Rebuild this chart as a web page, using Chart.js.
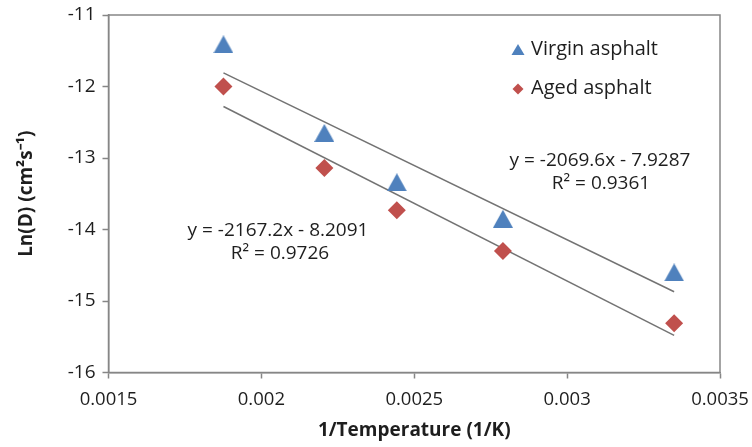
<!DOCTYPE html>
<html><head><meta charset="utf-8">
<script src="https://cdn.jsdelivr.net/npm/chart.js@4/dist/chart.umd.min.js"></script>
<style>html,body{margin:0;padding:0;background:#fff}#wrap{width:752px;height:447px}</style>
</head><body><div id="wrap"><canvas id="c" width="752" height="447"></canvas></div>
<script>
// ---- data ----
const invTemp = [0.001876, 0.002206, 0.002443, 0.00279, 0.00335];
const virginLnD = [-11.41, -12.65, -13.34, -13.85, -14.60];
const agedLnD = [-12.00, -13.14, -13.73, -14.30, -15.31];
const trendX = [0.001876, 0.00335];
const virginTrend = [-11.81, -14.87];
const agedTrend = [-12.28, -15.48];
const xTicks = [0.0015, 0.002, 0.0025, 0.003, 0.0035];
const yTicks = [-16, -15, -14, -13, -12, -11];
const seriesNames = ['Virgin asphalt', 'Aged asphalt'];
const virginEq = ['y = -2069.6x - 7.9287', 'R² = 0.9361'];
const agedEq = ['y = -2167.2x - 8.2091', 'R² = 0.9726'];
const xTitle = '1/Temperature (1/K)';
const yTitle = 'Ln(D) (cm²s⁻¹)';

const FONT = '"Open Sans", "Liberation Sans", sans-serif';
const BLUE = '#4F81BD', RED = '#C0504D', AXIS = '#868686', TXT = '#1e1e1e';

function triCanvas(w, h, color) {
  const c = document.createElement('canvas');
  c.width = w; c.height = h;
  const g = c.getContext('2d');
  g.fillStyle = color;
  g.beginPath(); g.moveTo(w / 2, 0); g.lineTo(w, h); g.lineTo(0, h); g.closePath(); g.fill();
  return c;
}
const triBig = triCanvas(20, 18, BLUE);

const overlay = {
  id: 'overlay',
  afterDraw(chart) {
    const ctx = chart.ctx, a = chart.chartArea;
    ctx.save();
    // plot frame
    ctx.strokeStyle = AXIS; ctx.lineWidth = 1.5;
    ctx.strokeRect(a.left, a.top, a.right - a.left, a.bottom - a.top);
    // legend
    const lx = 518, ty = 50, dy = 89;
    ctx.fillStyle = BLUE;
    ctx.beginPath(); ctx.moveTo(lx, ty - 6); ctx.lineTo(lx + 6.5, ty + 5); ctx.lineTo(lx - 6.5, ty + 5); ctx.closePath(); ctx.fill();
    ctx.fillStyle = RED;
    ctx.beginPath(); ctx.moveTo(lx, dy - 5.5); ctx.lineTo(lx + 5.5, dy); ctx.lineTo(lx, dy + 5.5); ctx.lineTo(lx - 5.5, dy); ctx.closePath(); ctx.fill();
    ctx.fillStyle = TXT;
    ctx.font = '500 20px ' + FONT;
    ctx.textBaseline = 'middle'; ctx.textAlign = 'left';
    ctx.fillText(seriesNames[0], 531, ty - 1);
    ctx.fillText(seriesNames[1], 531, dy - 1);
    // equations
    ctx.font = '500 19px ' + FONT;
    ctx.textAlign = 'center';
    ctx.fillText(virginEq[0], 600, 161);
    ctx.fillText(virginEq[1], 601, 184);
    ctx.fillText(agedEq[0], 278, 231);
    ctx.fillText(agedEq[1], 280, 254);
    ctx.restore();
  }
};

function build() {
  new Chart(document.getElementById('c'), {
    type: 'scatter',
    data: {
      datasets: [
        { label: seriesNames[0], data: invTemp.map((x, i) => ({ x, y: virginLnD[i] })),
          pointStyle: triBig, pointRadius: 10, backgroundColor: BLUE, borderWidth: 0, order: 0 },
        { label: seriesNames[1], data: invTemp.map((x, i) => ({ x, y: agedLnD[i] })),
          pointStyle: 'rectRot', pointRadius: 9, backgroundColor: RED, borderColor: RED, borderWidth: 0, order: 0 },
        { label: 'Virgin trend', data: trendX.map((x, i) => ({ x, y: virginTrend[i] })),
          showLine: true, pointRadius: 0, borderColor: '#737373', borderWidth: 1.5, order: 1 },
        { label: 'Aged trend', data: trendX.map((x, i) => ({ x, y: agedTrend[i] })),
          showLine: true, pointRadius: 0, borderColor: '#737373', borderWidth: 1.5, order: 1 }
      ]
    },
    options: {
      responsive: false, animation: false,
      layout: { padding: { top: 15, right: 32, left: 0, bottom: 0 } },
      plugins: { legend: { display: false }, tooltip: { enabled: false } },
      scales: {
        x: {
          type: 'linear', min: xTicks[0], max: xTicks[xTicks.length - 1],
          afterBuildTicks: s => { s.ticks = xTicks.map(v => ({ value: v })); },
          afterFit: s => { s.height = 74.5; s.paddingLeft = 0; s.paddingRight = 0; },
          ticks: { font: { family: FONT, size: 18.5, weight: '500' }, color: TXT, padding: 10, callback: v => String(v), maxRotation: 0 },
          grid: { drawOnChartArea: false, tickLength: 6, tickColor: AXIS, tickWidth: 1.5 },
          border: { color: AXIS, width: 1.5 },
          title: { display: true, text: xTitle, font: { family: FONT, size: 19, weight: 'bold' }, color: TXT, padding: { top: 0, bottom: 5 } }
        },
        y: {
          type: 'linear', min: yTicks[0], max: yTicks[yTicks.length - 1],
          afterBuildTicks: s => { s.ticks = yTicks.map(v => ({ value: v })); },
          afterFit: s => { s.width = 108.5; s.paddingTop = 0; s.paddingBottom = 0; },
          ticks: { font: { family: FONT, size: 19, weight: '500' }, color: TXT, padding: 7, callback: v => String(v) },
          grid: { drawOnChartArea: false, tickLength: 6, tickColor: AXIS, tickWidth: 1.5 },
          border: { color: AXIS, width: 1.5 },
          title: { display: true, text: yTitle, font: { family: FONT, size: 19, weight: 'bold' }, color: TXT, padding: { top: 15, bottom: 0 } }
        }
      }
    },
    plugins: [overlay]
  });
}
(document.fonts ? document.fonts.load('18px "Open Sans"').then(build, build) : build());
</script>
</body></html>
